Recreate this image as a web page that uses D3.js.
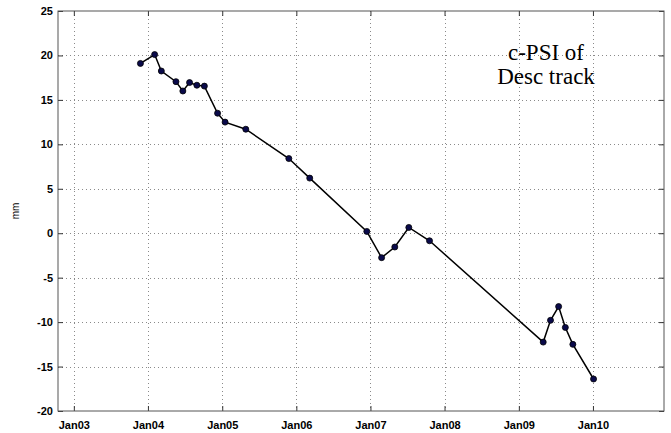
<!DOCTYPE html>
<html>
<head>
<meta charset="utf-8">
<script src="https://cdn.jsdelivr.net/npm/d3@7"></script>
<style>
  html, body { margin: 0; padding: 0; background: #fff; }
  svg { display: block; }
  .tick text { font-family: "Liberation Sans", Arial, sans-serif; font-weight: bold; font-size: 11px; fill: #000; }
</style>
</head>
<body>
<svg id="chart" width="671" height="433"></svg>
<script>
// Acquisition dates and cumulative displacement (mm)
const dates = [
  "2003-11-25", "2004-02-03", "2004-03-07", "2004-05-18", "2004-06-21",
  "2004-07-24", "2004-08-29", "2004-10-05", "2004-12-09", "2005-01-15",
  "2005-04-27", "2005-11-25", "2006-03-08", "2006-12-14", "2007-02-25",
  "2007-05-01", "2007-07-09", "2007-10-19", "2009-05-01", "2009-06-06",
  "2009-07-16", "2009-08-18", "2009-09-24", "2010-01-04"
];
const displacement = [
  19.1, 20.1, 18.25, 17.05, 16.0,
  16.95, 16.65, 16.55, 13.5, 12.5,
  11.7, 8.4, 6.2, 0.2, -2.75,
  -1.55, 0.65, -0.85, -12.25, -9.8,
  -8.25, -10.6, -12.5, -16.4
];
const xTickYears = [2003, 2004, 2005, 2006, 2007, 2008, 2009, 2010];
const xTickLabels = ["Jan03", "Jan04", "Jan05", "Jan06", "Jan07", "Jan08", "Jan09", "Jan10"];
const yTicks = [-20, -15, -10, -5, 0, 5, 10, 15, 20, 25];
const titleLines = ["c-PSI of", "Desc track"];

const svg = d3.select("#chart");
const plot = { left: 58, right: 664, top: 11, bottom: 411 };

const x = d3.scaleUtc()
  .domain([new Date(Date.UTC(2002, 9, 15)), new Date(Date.UTC(2010, 11, 17))])
  .range([plot.left, plot.right]);
const y = d3.scaleLinear().domain([-20, 25]).range([plot.bottom, plot.top]);

const parse = d3.utcParse("%Y-%m-%d");
const points = dates.map((d, i) => ({ date: parse(d), value: displacement[i] }));
const xTickDates = xTickYears.map(yr => new Date(Date.UTC(yr, 0, 1)));

// Dotted grid
const grid = svg.append("g").attr("stroke", "#8a8a8a").attr("stroke-width", 1)
  .attr("stroke-dasharray", "1,3");
grid.selectAll("line.v").data(xTickDates).join("line").attr("class", "v")
  .attr("x1", d => Math.round(x(d)) + 0.5).attr("x2", d => Math.round(x(d)) + 0.5)
  .attr("y1", plot.top).attr("y2", plot.bottom);
grid.selectAll("line.h").data(yTicks.slice(1, -1)).join("line").attr("class", "h")
  .attr("y1", d => Math.round(y(d)) + 0.5).attr("y2", d => Math.round(y(d)) + 0.5)
  .attr("x1", plot.left).attr("x2", plot.right);

// Axes with inward ticks on all four sides
const fmtX = (d, i) => xTickLabels[i];
const axB = svg.append("g").attr("transform", `translate(0,${plot.bottom})`)
  .call(d3.axisBottom(x).tickValues(xTickDates).tickFormat(fmtX).tickSize(-5).tickSizeOuter(0).tickPadding(10));
const axT = svg.append("g").attr("transform", `translate(0,${plot.top})`)
  .call(d3.axisTop(x).tickValues(xTickDates).tickFormat("").tickSize(-5).tickSizeOuter(0));
const axL = svg.append("g").attr("transform", `translate(${plot.left},0)`)
  .call(d3.axisLeft(y).tickValues(yTicks).tickFormat(d3.format("d")).tickSize(-5).tickSizeOuter(0).tickPadding(5));
const axR = svg.append("g").attr("transform", `translate(${plot.right},0)`)
  .call(d3.axisRight(y).tickValues(yTicks).tickFormat("").tickSize(-5).tickSizeOuter(0));
[axB, axT, axL, axR].forEach(g => {
  g.select(".domain").remove();
  g.selectAll(".tick line").attr("stroke", "#333");
});
axL.selectAll(".tick text").text(d => d < 0 ? "-" + Math.abs(d) : d);

// Plot box
svg.append("rect").attr("x", plot.left).attr("y", plot.top)
  .attr("width", plot.right - plot.left).attr("height", plot.bottom - plot.top)
  .attr("fill", "none").attr("stroke", "#555").attr("stroke-width", 1);

// Y axis label
svg.append("text").attr("transform", `translate(19,${(plot.top + plot.bottom) / 2}) rotate(-90)`)
  .attr("text-anchor", "middle")
  .attr("font-family", "Liberation Sans, Arial, sans-serif").attr("font-size", 10)
  .text("mm");

// Time series line and markers
const line = d3.line().x(d => x(d.date)).y(d => y(d.value));
svg.append("path").datum(points).attr("d", line)
  .attr("fill", "none").attr("stroke", "#000").attr("stroke-width", 1.5);
svg.append("g").selectAll("circle").data(points).join("circle")
  .attr("cx", d => x(d.date)).attr("cy", d => y(d.value)).attr("r", 3)
  .attr("fill", "#0a0a4a").attr("stroke", "#000").attr("stroke-width", 0.8);

// Annotation
svg.append("text").attr("x", 546).attr("y", 60)
  .attr("text-anchor", "middle")
  .attr("font-family", "Liberation Serif, Times New Roman, serif").attr("font-size", 23)
  .selectAll("tspan").data(titleLines).join("tspan")
  .attr("x", 546).attr("dy", (d, i) => i === 0 ? 0 : 24)
  .text(d => d);
</script>
</body>
</html>
